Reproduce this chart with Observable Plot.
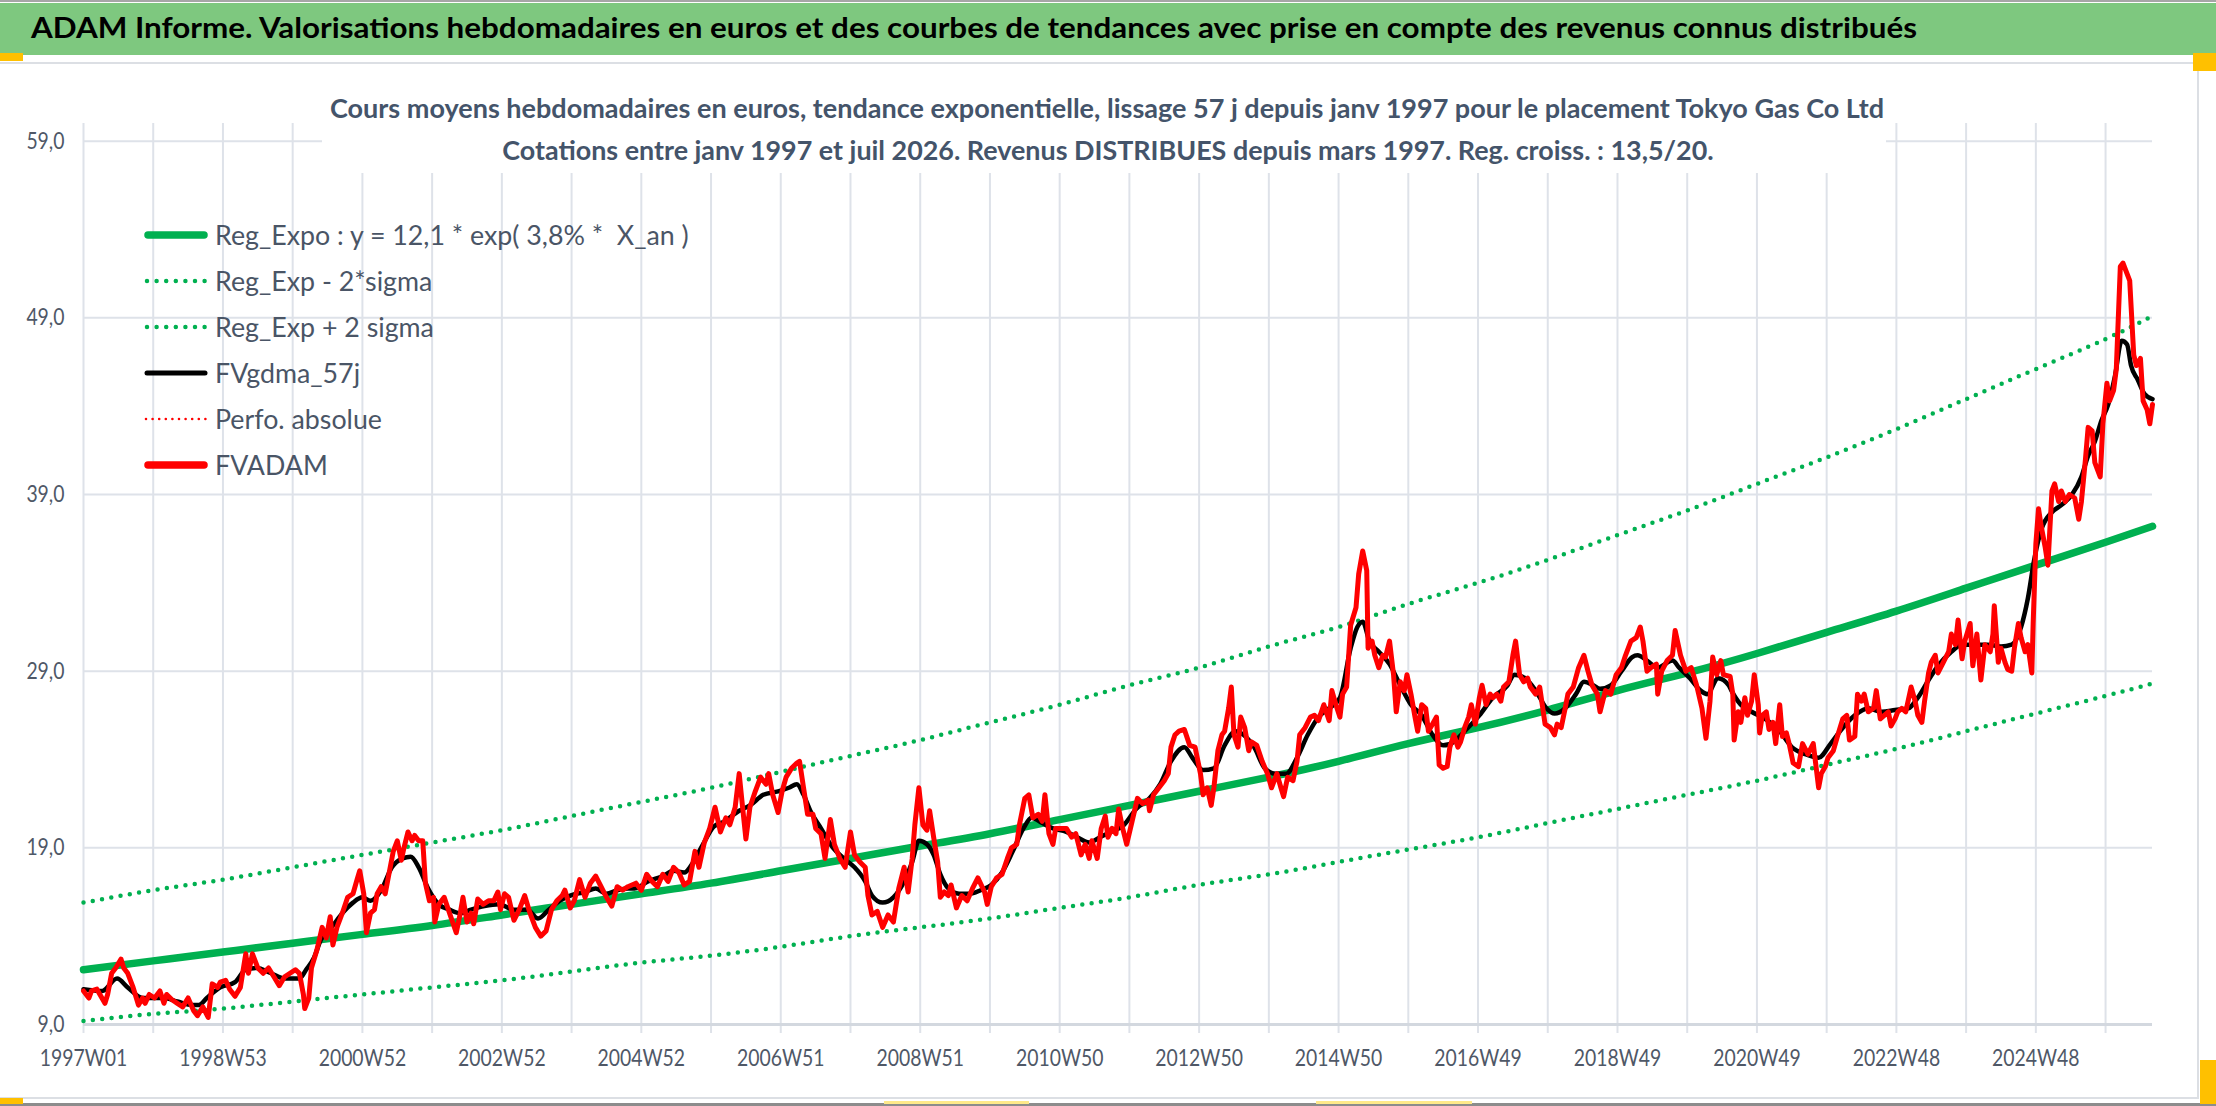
<!DOCTYPE html>
<html><head><meta charset="utf-8">
<script src="https://cdn.jsdelivr.net/npm/d3@7"></script>
<script src="https://cdn.jsdelivr.net/npm/@observablehq/plot@0.6"></script>
<style>
html,body{margin:0;padding:0;background:#fff;}
body{width:2216px;height:1106px;position:relative;overflow:hidden;font-family:Lato,"Open Sans",sans-serif;}
.abs{position:absolute;}
#band{left:0;top:3px;width:2216px;height:52px;background:#7EC87F;}
#topline{left:0;top:0;width:2216px;height:2px;background:#a6a6a6;}
#title{left:31px;top:0;font-weight:bold;color:#000;white-space:nowrap;line-height:1;}
#chart{left:0;top:62px;}
#subbox{left:322px;top:62px;width:1564px;height:111px;background:#fff;}
.sub{font-weight:bold;color:#44546A;white-space:nowrap;line-height:1;}
.leg{display:flex;align-items:center;white-space:nowrap;color:#4A5566;line-height:1;}
.leg svg{flex:none;}
.leg span{display:inline-block;margin-left:7px;white-space:pre;}
</style></head>
<body>
<div id="topline" class="abs"></div>
<div id="band" class="abs"></div>
<div id="title" class="abs">ADAM Informe. Valorisations hebdomadaires en euros et des courbes de tendances avec prise en compte des revenus connus distribués</div>
<div id="chart" class="abs"></div>
<div id="subbox" class="abs"></div>
<div id="sub1" class="abs sub">Cours moyens hebdomadaires en euros, tendance exponentielle, lissage 57 j depuis janv 1997 pour le placement Tokyo Gas Co Ltd</div>
<div id="sub2" class="abs sub">Cotations entre janv 1997 et juil 2026. Revenus DISTRIBUES depuis mars 1997. Reg. croiss. : 13,5/20.</div>
<div id="legend"></div>
<div class="abs" style="left:0;top:62px;width:2198px;height:2px;background:#dcdfe4"></div>
<div class="abs" style="left:0;top:1097px;width:2198px;height:2px;background:#dcdfe4"></div>
<div class="abs" style="left:2197px;top:62px;width:2px;height:1037px;background:#dcdfe4"></div>
<div class="abs" style="left:0;top:1103px;width:2216px;height:3px;background:#8c8c8c"></div>
<div class="abs" style="left:0;top:53px;width:23px;height:8px;background:#FFC000"></div>
<div class="abs" style="left:0;top:1098px;width:23px;height:6px;background:#FFC000"></div>
<div class="abs" style="left:2193px;top:53px;width:23px;height:18px;background:#FFC000"></div>
<div class="abs" style="left:2200px;top:1060px;width:16px;height:44px;background:#FFC000"></div>
<div class="abs" style="left:884px;top:1101px;width:145px;height:3px;background:#FFE98A"></div>
<div class="abs" style="left:1316px;top:1101px;width:156px;height:3px;background:#FFE98A"></div>
<script>
// ---------- data ----------
const xLabels = ["1997W01","1998W53","2000W52","2002W52","2004W52","2006W51","2008W51","2010W50","2012W50","2014W50","2016W49","2018W49","2020W49","2022W48","2024W48"];
const lastWeek = 1543;
const yTicks = [9, 19, 29, 39, 49, 59];

const trendWeeks = [0,52,104,156,208,260,312,364,416,468,520,572,624,676,728,780,832,884,936,988,1040,1092,1144,1196,1248,1300,1352,1404,1456,1508,1543];
const regExpo = [12.1,12.6,13.1,13.6,14.1,14.6,15.2,15.8,16.4,17.0,17.7,18.4,19.1,19.8,20.6,21.4,22.2,23.0,23.9,24.9,25.8,26.8,27.9,28.9,30.0,31.2,32.4,33.7,35.0,36.3,37.2];
const regPlus = [15.9,16.6,17.2,17.9,18.6,19.3,20.0,20.8,21.6,22.4,23.3,24.2,25.1,26.1,27.1,28.2,29.2,30.4,31.5,32.8,34.0,35.3,36.7,38.1,39.6,41.1,42.7,44.4,46.1,47.8,49.1];
const regMinus = [9.2,9.6,9.9,10.3,10.7,11.1,11.5,12.0,12.5,12.9,13.4,14.0,14.5,15.0,15.6,16.2,16.9,17.5,18.2,18.9,19.6,20.4,21.2,22.0,22.8,23.7,24.6,25.6,26.6,27.6,28.3];

const gdmaWeeks = [0,14,25,33,44,60,70,81,86,92,102,113,121,129,140,150,161,166,172,177,185,193,201,208,214,222,230,238,244,250,257,265,273,281,289,299,310,321,331,339,347,355,363,374,382,390,398,406,
411,421,432,440,448,454,462,470,478,489,497,507,518,526,532,537,542,550,559,567,575,583,588,596,604,612,618,623,629,634,639,645,653,661,669,677,685,693,701,707,715,723,733,741,750,758,766,776,785,795,803,811,821,
827,835,843,851,859,865,873,881,889,897,905,913,921,929,937,945,950,954,959,966,974,982,990,998,1006,1014,1022,1030,1041,1051,1062,1067,1075,1083,1091,1097,1105,1113,1119,1126,1131,1139,1147,1155,1159,1166,1174,1185,1190,1198,1206,1211,1219,1227,
1229,1236,1244,1254,1264,1274,1284,1294,1303,1311,1321,1331,1341,1351,1361,1368,1376,1383,1393,1401,1410,1420,1430,1438,1445,1450,1455,1460,1468,1475,1483,1490,1495,1500,1505,1510,1515,1520,1524,1527,1532,1537,1543];
const gdmaValues = [11.0,10.9,11.6,11.1,10.5,10.5,10.3,10.1,10.1,10.5,11.1,11.4,12.1,12.2,11.9,11.6,11.6,12.1,12.8,13.8,14.5,15.3,15.9,16.2,16.0,16.6,17.9,18.4,18.5,17.9,16.7,15.8,15.5,15.3,15.5,15.7,15.8,15.5,15.5,15.0,15.5,16.0,16.3,16.5,16.7,16.4,16.6,16.7,
16.7,17.1,17.4,17.7,17.6,18.1,19.2,20.2,20.5,21.1,21.4,22.0,22.2,22.4,22.6,22.0,21.1,20.1,19.0,18.4,17.9,17.1,16.3,15.9,16.2,17.1,18.2,19.4,19.2,18.6,17.5,16.7,16.4,16.4,16.6,16.9,17.6,18.8,20.1,20.7,20.4,20.1,19.9,19.6,19.3,19.6,19.9,20.3,21.2,21.8,22.6,23.9,24.7,
24.1,23.4,23.5,24.8,25.6,25.4,24.7,23.5,23.2,23.2,24.1,25.4,26.4,26.9,27.5,30.3,31.5,31.8,30.7,30.1,29.4,28.2,27.1,26.5,25.4,24.8,25.0,25.6,26.5,27.5,28.2,28.8,28.6,27.9,26.9,26.6,26.9,27.7,28.4,28.2,28.0,28.2,29.0,29.8,29.9,29.6,29.2,29.6,29.2,28.6,27.9,27.7,28.6,28.2,
27.9,27.1,26.7,26.3,25.7,24.7,24.3,24.1,24.9,25.7,26.5,26.9,26.7,26.8,26.9,27.5,28.5,29.3,30.1,30.5,30.5,30.5,30.4,30.5,31.5,33.1,35.4,37.0,38.0,38.4,39.0,40.0,41.2,42.0,43.2,44.1,45.7,47.7,47.5,46.3,45.5,44.7,44.4];

const adamWeeks = [0,4,6,10,13,16,18,21,24,28,30,33,37,41,44,46,49,53,57,60,62,66,70,74,78,82,85,89,93,96,100,102,106,109,113,117,121,123,126,130,134,138,142,146,150,154,158,161,164,165,168,170,174,178,181,184,186,189,193,197,201,204,206,209,211,214,217,219,222,225,227,231,234,237,239,242,245,247,250,253,255,258,261,262,265,269,273,278,281,283,286,289,291,294,298,302,306,309,311,314,317,321,325,329,333,337,341,345,349,353,357,359,363,366,370,374,378,382,386,390,394,398,402,406,
412,416,420,424,428,432,436,440,444,448,452,456,459,463,467,471,475,479,482,486,489,491,494,497,501,505,509,511,514,518,521,524,528,532,534,537,540,544,546,550,553,557,560,564,568,572,575,579,583,585,588,592,596,600,604,608,612,615,618,620,623,626,629,631,634,637,639,642,645,647,651,655,659,663,667,672,674,677,681,685,689,692,696,698,702,705,708,712,715,717,720,723,725,729,733,737,740,744,747,750,752,756,759,762,764,767,770,772,775,778,782,786,790,794,795,798,802,806,809,811,814,817,821,
825,829,833,835,838,841,843,846,849,851,854,856,858,861,863,866,869,871,875,879,883,886,890,893,895,898,902,905,907,911,915,918,921,925,929,931,934,937,939,942,945,949,951,954,957,958,961,963,966,969,971,974,977,979,982,985,987,990,993,995,998,1001,1003,1006,1009,1011,1014,1017,1019,1022,1025,1027,1030,1033,1035,1038,1041,1043,1046,1049,1051,1054,1057,1059,1063,1066,1068,1071,1074,1077,1079,1083,1086,1090,1094,1097,1099,1102,1105,1107,1111,1115,1119,1122,1125,1129,1131,1135,1139,1143,1147,1150,1154,1158,1161,1163,1166,1169,1173,1174,1177,1181,1185,1187,1191,1195,1199,1203,1207,1210,1213,1215,1218,1221,1223,
1228,1230,1231,1234,1236,1239,1241,1244,1246,1249,1250,1252,1255,1257,1260,1262,1265,1267,1270,1272,1275,1279,1282,1286,1290,1294,1296,1299,1301,1305,1308,1312,1315,1317,1321,1323,1326,1328,1331,1335,1337,1340,1343,1346,1348,1351,1353,1356,1359,1363,1366,1368,1371,1373,1376,1378,1381,1383,1387,1391,1393,1396,1398,1401,1403,1407,1409,1412,1415,1418,1422,1424,1425,1428,1430,1433,1435,1438,1440,1443,1445,1448,1450,1453,1454,1456,1458,1460,1463,1465,1468,1470,1473,1475,1478,1481,1485,1488,1490,1493,1495,1498,1500,1504,1506,1509,1511,1514,1516,1519,1521,1524,1526,1529,1531,1534,1536,1539,1541,1543];
const adamValues = [10.9,10.5,10.9,11.0,10.6,10.2,10.7,11.9,12.2,12.7,12.2,11.9,11.1,10.1,10.5,10.2,10.7,10.5,10.9,10.2,10.7,10.4,10.2,10.0,10.5,9.8,9.5,10.0,9.4,11.3,11.1,11.4,11.5,11.0,10.6,11.1,13.0,11.9,13.0,12.2,11.9,12.2,11.7,11.2,11.7,11.9,12.1,11.9,10.7,9.9,10.5,12.2,13.2,14.5,13.9,15.1,13.5,14.5,15.3,16.2,16.4,17.2,17.7,16.4,14.2,15.3,15.5,16.4,16.8,16.4,17.2,18.8,19.4,18.3,19.0,19.9,19.4,19.7,19.4,19.4,17.0,16.0,16.2,14.8,15.8,16.2,15.3,14.2,15.3,16.2,14.8,15.3,14.7,16.1,15.8,16.0,16.0,16.5,15.5,16.4,16.2,14.9,15.5,16.3,15.3,14.5,14.0,14.3,15.5,16.0,16.3,16.6,15.6,16.0,17.2,16.2,17.0,17.4,16.8,16.2,15.7,16.8,16.6,16.8,
17.0,16.6,17.5,17.1,16.8,17.5,17.1,17.9,17.6,16.9,17.1,18.8,17.9,19.3,20.1,21.3,19.9,20.7,20.3,21.3,23.2,21.7,19.5,21.3,22.2,23.0,22.6,23.2,22.0,21.0,22.2,23.0,23.5,23.8,23.9,22.4,20.9,20.9,20.1,19.8,18.4,20.6,19.2,18.4,17.9,19.9,18.6,18.2,17.9,16.3,15.2,15.4,14.5,15.2,14.8,16.7,17.9,16.5,18.4,20.3,22.4,20.3,20.0,21.1,19.6,18.2,16.2,16.5,16.3,16.9,15.6,16.3,16.0,16.7,17.3,16.5,15.8,16.8,17.3,17.5,18.4,19.0,19.2,20.3,21.8,22.0,20.7,20.9,20.5,22.0,19.8,19.2,20.1,20.1,20.1,19.6,19.8,18.6,19.2,18.4,19.4,18.4,20.1,20.8,19.6,20.1,19.8,21.2,20.1,19.2,20.5,21.8,21.5,21.7,21.1,22.0,22.4,22.8,23.2,24.7,25.4,25.6,25.7,
24.8,24.7,23.2,22.0,22.4,21.4,22.4,24.5,25.4,25.6,26.9,28.1,25.4,24.7,26.4,25.8,24.5,25.0,24.8,23.9,23.2,22.4,23.2,22.4,21.9,23.0,22.8,23.9,25.4,25.8,26.4,26.5,26.2,27.1,26.2,27.9,27.1,26.4,27.7,28.1,31.6,32.6,34.5,35.8,34.7,30.3,30.7,29.9,29.2,29.9,29.8,30.7,28.8,26.7,28.4,27.9,28.8,27.7,26.4,25.6,27.1,26.9,25.6,26.0,26.4,23.7,23.5,23.6,24.7,25.4,24.7,25.0,25.8,26.4,27.1,26.0,27.5,28.2,27.1,27.7,27.5,27.7,27.3,28.1,28.4,29.9,30.7,28.8,28.4,28.6,28.1,27.7,28.1,26.0,25.8,25.4,26.0,25.8,26.9,27.7,28.1,29.2,29.9,29.0,28.2,27.7,26.7,27.9,27.7,28.8,29.2,29.9,30.7,30.9,31.5,30.7,29.0,29.2,29.4,27.7,29.0,29.6,29.9,31.3,29.9,29.0,29.2,28.2,26.9,25.2,27.3,29.8,28.8,29.6,28.8,
28.7,27.7,25.1,26.7,26.1,27.5,26.5,27.3,28.8,27.1,25.5,26.5,26.7,25.7,26.1,24.9,27.1,25.3,25.5,24.9,23.8,23.6,24.9,24.3,24.9,22.4,23.2,23.6,24.1,24.5,25.3,26.3,26.5,25.1,25.3,27.7,27.3,27.7,26.7,26.9,27.9,26.3,26.5,26.7,25.9,26.3,26.7,26.9,26.7,28.1,27.3,26.5,26.1,27.3,28.9,29.5,29.9,28.9,29.5,30.1,31.1,30.5,31.9,29.7,30.7,31.7,29.3,31.1,28.5,30.5,30.1,31.1,32.7,29.5,30.3,29.5,29.1,29.0,30.3,31.7,30.9,30.1,30.5,28.9,31.7,36.2,38.2,37.2,36.0,35.0,39.2,39.6,38.6,39.2,38.6,39.0,38.8,37.6,38.6,41.0,42.8,42.6,40.8,40.0,43.0,45.3,44.3,44.9,46.1,51.9,52.1,51.5,51.1,46.9,46.3,46.7,44.3,43.8,43.0,44.1];

const legendLabels = ["Reg_Expo : y = 12,1 * exp( 3,8% *  X_an )","Reg_Exp - 2*sigma","Reg_Exp + 2 sigma","FVgdma_57j","Perfo. absolue","FVADAM"];

// ---------- build ----------
const FONT = 'Lato,"Open Sans",sans-serif';
const GREEN = "#00B050", RED = "#FF0000", GRID = "#DEE2E9", AXIS = "#D3D8DF", TXT = "#4F5867";
const gridWeeks = d3.range(0, lastWeek, 52);
const labelWeeks = d3.range(0, lastWeek, 104);
const zip = (w, v) => w.map((x, i) => ({w: x, v: v[i]}));
const fmt = d => d.toFixed(1).replace(".", ",");
const TICK_FS = 19.4, TICK_SY = 1.2;

const chart = Plot.plot({
  width: 2216, height: 1044,
  marginLeft: 83, marginRight: 64, marginTop: 61, marginBottom: 82,
  style: {fontFamily: FONT, fontSize: TICK_FS + "px", color: TXT, background: "transparent", overflow: "visible"},
  x: {type: "linear", domain: [0, lastWeek], label: null},
  y: {domain: [9, 60], label: null},
  marks: [
    Plot.ruleX(gridWeeks, {x: d => d, y1: 9, y2: 60, stroke: GRID, strokeWidth: 2}),
    Plot.ruleY(yTicks.slice(1), {y: d => d, x1: 0, x2: lastWeek, stroke: GRID, strokeWidth: 2}),
    Plot.axisX({ticks: gridWeeks, tickSize: 9, tickFormat: () => "", stroke: GRID, strokeWidth: 2, label: null}),
    Plot.ruleY([9], {x1: 0, x2: lastWeek, stroke: AXIS, strokeWidth: 3}),
    Plot.axisX({ticks: labelWeeks, tickSize: 0, tickPadding: 25, tickFormat: d => xLabels[labelWeeks.indexOf(d)], fill: TXT, fontSize: TICK_FS, label: null}),
    Plot.axisY({ticks: yTicks, tickSize: 0, tickPadding: 19, tickFormat: fmt, fill: TXT, fontSize: TICK_FS, label: null}),
    Plot.line(zip(trendWeeks, regExpo), {x: "w", y: "v", stroke: GREEN, strokeWidth: 7.5, curve: "natural"}),
    Plot.line(zip(trendWeeks, regMinus), {x: "w", y: "v", stroke: GREEN, strokeWidth: 4.5, strokeDasharray: "0 9.4", strokeLinecap: "round", curve: "natural"}),
    Plot.line(zip(trendWeeks, regPlus), {x: "w", y: "v", stroke: GREEN, strokeWidth: 4.5, strokeDasharray: "0 9.4", strokeLinecap: "round", curve: "natural"}),
    Plot.line(zip(gdmaWeeks, gdmaValues), {x: "w", y: "v", stroke: "#000", strokeWidth: 4.5, curve: "monotone-x"}),
    Plot.line(zip(adamWeeks, adamValues), {x: "w", y: "v", stroke: RED, strokeWidth: 5, strokeLinejoin: "round", strokeLinecap: "round"})
  ]
});
document.getElementById("chart").appendChild(chart);
// taller, narrow-looking tick labels like the reference
chart.querySelectorAll("text").forEach(t => {
  const tr = t.getAttribute("transform") || "";
  t.setAttribute("transform", tr + ` scale(1,${TICK_SY})`);
});

// text fitting helpers (Lato metrics: cap 0.7165em, baseline 0.887em below top with line-height 1)
const CAP = 0.7165, BASE = 0.887;
function fitFont(el, nominal, target) {
  el.style.fontSize = nominal + "px";
  const w = el.getBoundingClientRect().width;
  const fs = nominal * target / w;
  el.style.fontSize = fs + "px";
  return fs;
}
function stretch(el, fs, capTarget) {
  const k = capTarget / (CAP * fs);
  el.style.transformOrigin = `0px ${BASE * fs}px`;
  el.style.transform = `scaleY(${k})`;
}
function placeBaseline(el, fs, baseline) { el.style.top = (baseline - BASE * fs) + "px"; }

const title = document.getElementById("title");
const tfs = fitFont(title, 31, 1887);
placeBaseline(title, tfs, 39); stretch(title, tfs, 21);

const s1 = document.getElementById("sub1"), s2 = document.getElementById("sub2");
const f1 = fitFont(s1, 26, 1555); placeBaseline(s1, f1, 118); stretch(s1, f1, 19.5);
s1.style.left = (1107 - s1.getBoundingClientRect().width / 2) + "px";
const f2 = fitFont(s2, 26, 1212); placeBaseline(s2, f2, 161); stretch(s2, f2, 19.5);
s2.style.left = (1108 - s2.getBoundingClientRect().width / 2) + "px";

// legend
const swatches = [
  `<line x1="4" y1="10" x2="60" y2="10" stroke="${GREEN}" stroke-width="7.5" stroke-linecap="round"/>`,
  `<line x1="3" y1="10" x2="62" y2="10" stroke="${GREEN}" stroke-width="4.5" stroke-dasharray="0 9.6" stroke-linecap="round"/>`,
  `<line x1="3" y1="10" x2="62" y2="10" stroke="${GREEN}" stroke-width="4.5" stroke-dasharray="0 9.6" stroke-linecap="round"/>`,
  `<line x1="3" y1="10" x2="61" y2="10" stroke="#000" stroke-width="5" stroke-linecap="round"/>`,
  `<line x1="2" y1="10" x2="62" y2="10" stroke="${RED}" stroke-width="2.6" stroke-dasharray="0 6.6" stroke-linecap="round"/>`,
  `<line x1="4" y1="10" x2="60" y2="10" stroke="${RED}" stroke-width="7.5" stroke-linecap="round"/>`
];
const rows = [237, 283, 329, 375, 421, 467];
const legend = document.getElementById("legend");
legendLabels.forEach((lab, i) => {
  const d = document.createElement("div");
  d.className = "abs leg";
  d.style.left = "144px";
  d.innerHTML = `<svg width="64" height="20">${swatches[i]}</svg><span>${lab}</span>`;
  legend.appendChild(d);
});
const spans = legend.querySelectorAll("span");
const lfs = fitFont(spans[0], 24, 474);
spans.forEach(s => { s.style.fontSize = lfs + "px"; stretch(s, lfs, 19.5); });
legend.querySelectorAll(".leg").forEach((d, i) => {
  const h = d.getBoundingClientRect().height;
  d.style.top = (rows[i] - h / 2 - 2) + "px";
});
</script>
</body></html>
